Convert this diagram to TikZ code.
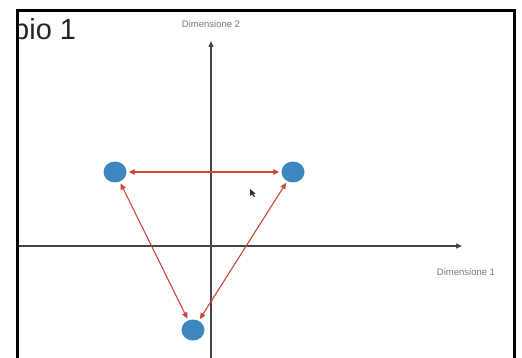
\documentclass[tikz,border=0pt]{standalone}
\usepackage{fontspec}
\setmainfont{Liberation Sans}
\usetikzlibrary{arrows.meta,shapes.geometric}
\definecolor{dotblue}{RGB}{62,134,190}
\definecolor{linkred}{RGB}{205,70,55}
\definecolor{axisgray}{RGB}{70,70,70}
\definecolor{labelgray}{RGB}{120,120,120}
\tikzset{
  dot/.style={ellipse, fill=dotblue, minimum width=23pt, minimum height=21pt, inner sep=0pt},
  link/.style={draw=linkred, line width=1.1pt, {Triangle[length=6pt,width=5.5pt]}-{Triangle[length=6pt,width=5.5pt]}, shorten <=2pt, shorten >=2pt},
  axis/.style={draw=axisgray, line width=1.4pt, -{Triangle[length=6pt,width=5pt]}},
  axlabel/.style={font=\fontsize{9.5}{11}\selectfont, text=labelgray, inner sep=0pt}
}
\begin{document}
\begin{tikzpicture}[x=1pt,y=-1pt]
\useasboundingbox (0,0) rectangle (522,358);
\fill[white] (0,0) rectangle (522,358);
% frame
\draw[line width=3pt] (17,380) -- (17,10.5) -- (514.5,10.5) -- (514.5,380);
\begin{scope}
\clip (18.5,12) rectangle (513,358);
\node[anchor=base west, font=\fontsize{29}{32}\selectfont, text=black!85, inner sep=0pt] (title) at (13,40) {pio 1};
% axes
\coordinate (xs) at (18.5,246);
\coordinate (xe) at (462,246);
\coordinate (ys) at (211,365);
\coordinate (ye) at (211,41);
\draw[axis] (xs) -- (xe);
\draw[axis] (ys) -- (ye);
\end{scope}
\node[axlabel] (l2) at (211,24) {Dimensione 2};
\node[axlabel] (l1) at (466,272) {Dimensione 1};
% points
\node[dot] (a) at (115,172) {};
\node[dot] (b) at (293,172) {};
\node[dot] (c) at (193,330) {};
\draw[link] (a) -- (b);
\draw[link] (a) -- (c);
\draw[link] (b) -- (c);
% cursor
\fill[black!80] (250,189) -- (250,196) -- (252,194.5) -- (254,197) -- (255,196.5) -- (253.5,194) -- (255.5,193.5) -- cycle;
\end{tikzpicture}
\end{document}
